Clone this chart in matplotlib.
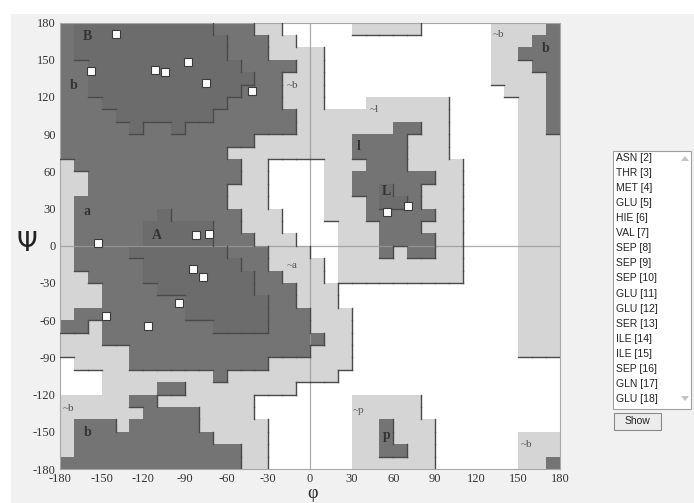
import matplotlib
matplotlib.use('Agg')
import matplotlib.pyplot as plt
import numpy as np
from matplotlib.colors import ListedColormap, BoundaryNorm
from matplotlib.collections import LineCollection
from matplotlib.patches import Rectangle, Polygon

W, H = 694, 503

# Ramachandran region grid: 10-degree cells, rows psi 170 (top) .. -180 (bottom),
# columns phi -180 .. 170.  0 = disallowed, 1 = generous, 2 = allowed, 3 = core
region_rows = [
    "2" + "3"*10 + "222" + "11" + "00000" + "11111" + "00000" + "1111" + "2",      # 170
    "2" + "3"*11 + "222" + "11" + "0"*14 + "111" + "22",                          # 160
    "2" + "3"*11 + "222" + "1111" + "0"*12 + "11" + "222",                        # 150
    "22" + "3"*11 + "2222" + "11" + "0"*12 + "111" + "22",                        # 140
    "22" + "3"*12 + "22" + "111" + "0"*12 + "1111" + "2",                         # 130
    "22" + "3"*11 + "222" + "111" + "0"*13 + "111" + "2",                         # 120
    "222" + "3"*9 + "2222" + "111" + "000" + "111111" + "00000" + "11" + "2",     # 110
    "2222" + "3"*7 + "222222" + "1"*11 + "00000" + "11" + "2",                    # 100
    "22222" + "3" + "22" + "3" + "2"*8 + "1"*7 + "22" + "11" + "00000" + "11" + "2",  # 90
    "2"*14 + "1"*7 + "2222" + "111" + "00000" + "111",                           # 80
    "2"*12 + "1"*9 + "2222" + "111" + "00000" + "111",                           # 70
    "1" + "2"*12 + "11" + "0000" + "111" + "222" + "1111" + "0000" + "111",      # 60
    "11" + "2"*11 + "11" + "0000" + "11" + "222222" + "11" + "0000" + "111",     # 50
    "11" + "2"*10 + "111" + "0000" + "11" + "22" + "3" + "22" + "111" + "0000" + "111",  # 40
    "1" + "2"*11 + "111" + "0000" + "111" + "2" + "33" + "2" + "111" + "0000" + "111",   # 30
    "1" + "222222" + "3" + "22222" + "111" + "000" + "111" + "22222" + "11" + "0000" + "111",  # 20
    "1" + "22222" + "33333" + "22" + "111" + "0000" + "111" + "222" + "111" + "0000" + "111",  # 10
    "1" + "22222" + "33333" + "222" + "111" + "000" + "111" + "2222" + "11" + "0000" + "111",  # 0
    "1" + "2222" + "3"*7 + "222" + "111" + "00" + "111" + "2" + "1" + "22" + "11" + "0000" + "111",  # -10
    "1" + "22222" + "3"*7 + "22" + "1111" + "0" + "1"*9 + "0000" + "111",        # -20
    "11" + "2222" + "3"*8 + "22" + "111" + "0" + "1"*9 + "0000" + "111",         # -30
    "111" + "2222" + "3"*7 + "222" + "111" + "0"*13 + "111",                      # -40
    "111" + "222222" + "333333" + "22" + "111" + "0"*13 + "111",                  # -50
    "1" + "2"*8 + "333333" + "222" + "111" + "0"*12 + "111",                      # -60
    "22" + "1" + "2"*8 + "3333" + "222" + "111" + "0"*12 + "111",                 # -70
    "111" + "2"*16 + "11" + "0"*12 + "111",                                       # -80
    "11111" + "2"*13 + "111" + "0"*12 + "111",                                    # -90
    "0" + "1111" + "2"*10 + "1"*6 + "0"*15,                                       # -100
    "000" + "1"*8 + "2" + "1"*8 + "0"*16,                                         # -110
    "000" + "1111" + "22" + "1"*8 + "0"*19,                                       # -120
    "11111" + "22" + "1"*7 + "0"*7 + "11111" + "0"*10,                            # -130
    "111111" + "2222" + "1111" + "0"*7 + "11111" + "0"*10,                        # -140
    "1" + "222" + "1" + "22222" + "11111" + "0"*6 + "11" + "2" + "111" + "0"*9,   # -150
    "1" + "2"*10 + "1111" + "0"*6 + "11" + "2" + "111" + "0"*6 + "111",          # -160
    "1" + "2"*12 + "11" + "0"*6 + "11" + "22" + "11" + "0"*6 + "111",            # -170
    "2"*13 + "11" + "0"*6 + "1"*6 + "0"*6 + "11" + "2",                           # -180
]
region_colors = ['#ffffff', '#d5d5d5', '#747474', '#6c6c6c']

region_labels = ["B", "b", "a", "A", "~b", "~a", "~l", "l", "L",
                 "~b", "b", "~b", "b", "~p", "p", "~b"]
label_phi = [-160.5, -170.5, -160.5, -110, -13, -13, 46, 35, 55,
             136, 170, -174, -160, 35, 55, 156]
label_psi = [169, 129, 28, 8, 129.5, -16, 109.5, 80, 43.6,
             170, 159, -131, -150.7, -132.5, -152.6, -160.6]

res_phi = [-139.7, -157.9, -111.6, -104.6, -87.6, -75.1, -41.5, -152.9,
           -82.1, -72.7, -84.0, -76.8, -94.3, -147.0, -116.9, 55.4, 70.6]
res_psi = [170.7, 140.9, 141.7, 139.8, 148.4, 131.5, 125.0, 2.0,
           8.7, 9.5, -18.7, -25.0, -46.4, -56.4, -64.5, 27.2, 32.0]

residues = ["ASN [2]", "THR [3]", "MET [4]", "GLU [5]", "HIE [6]", "VAL [7]",
            "SEP [8]", "SEP [9]", "SEP [10]", "GLU [11]", "GLU [12]", "SER [13]",
            "ILE [14]", "ILE [15]", "SEP [16]", "GLN [17]", "GLU [18]"]

ticks = list(range(-180, 181, 30))

# ---------------------------------------------------------------------------
fig = plt.figure(figsize=(W / 100, H / 100), dpi=100)
fig.patch.set_facecolor('#f1f1f1')


def fx(x):
    return x / W


def fy(y):
    return 1 - y / H


# white margins of the screenshot
fig.patches.append(Rectangle((0, fy(14)), 1, 14 / H, transform=fig.transFigure,
                             facecolor='white', edgecolor='none', zorder=0))
fig.patches.append(Rectangle((0, 0), fx(11), 1, transform=fig.transFigure,
                             facecolor='white', edgecolor='none', zorder=0))

ax = fig.add_axes([fx(60), fy(469), 500 / W, 446.5 / H])
ax.set_facecolor('white')

grid = np.array([[int(ch) for ch in row] for row in region_rows])
phi_edges = np.arange(-180, 181, 10)
psi_edges = np.arange(-180, 181, 10)
cmap = ListedColormap(region_colors)
norm = BoundaryNorm([-0.5, 0.5, 1.5, 2.5, 3.5], cmap.N)
ax.pcolormesh(phi_edges, psi_edges, grid[::-1], cmap=cmap, norm=norm,
              shading='flat', zorder=1)

# boundary "shadow" lines on right / bottom edges of higher regions
segs = []
nr, nc = grid.shape
for r in range(nr):
    for c in range(nc):
        p0 = -180 + 10 * c
        s0 = 170 - 10 * r
        v = grid[r, c]
        if c < nc - 1 and v > grid[r, c + 1]:
            segs.append([(p0 + 10, s0), (p0 + 10, s0 + 10)])
        if r < nr - 1 and v > grid[r + 1, c]:
            segs.append([(p0, s0), (p0 + 10, s0)])
ax.add_collection(LineCollection(segs, colors='#4a4a4a', linewidths=1.0,
                                 zorder=3, capstyle='projecting'))

ax.axhline(0, color='#9a9a9a', lw=0.9, alpha=0.8, zorder=2)
ax.axvline(0, color='#9a9a9a', lw=0.9, alpha=0.8, zorder=2)

for t, p, s in zip(region_labels, label_phi, label_psi):
    big = not t.startswith('~')
    ax.text(p, s, t, ha='center', va='center', family='Liberation Serif',
            fontsize=10 if big else 8, fontweight='bold' if big else 'normal',
            color='#333333' if big else '#555555', zorder=4)

ax.plot(res_phi, res_psi, linestyle='none', marker='s', markersize=6.3,
        markerfacecolor='white', markeredgecolor='#3a3a3a',
        markeredgewidth=0.8, zorder=5)

ax.set_xlim(-180, 180)
ax.set_ylim(-180, 180)
ax.set_xticks(ticks)
ax.set_yticks(ticks)
ax.set_xticklabels([str(t) for t in ticks])
ax.set_yticklabels([str(t) for t in ticks])
ax.tick_params(length=0, pad=3, labelsize=9, labelcolor='#333333')
for lab in ax.get_xticklabels() + ax.get_yticklabels():
    lab.set_family('Liberation Serif')
for sp in ax.spines.values():
    sp.set_color('#a8a8a8')
    sp.set_linewidth(0.8)

fig.text(fx(27), fy(244), 'Ψ', fontsize=19, ha='center', va='center',
         family='DejaVu Sans', color='#222222')
fig.text(fx(312), fy(502.5), 'φ', fontsize=13, ha='center', va='bottom',
         family='Liberation Serif', color='#222222')

# residue list box
fig.patches.append(Rectangle((fx(613), fy(409)), 78 / W, 258 / H,
                             transform=fig.transFigure, facecolor='white',
                             edgecolor='#a0a0a0', linewidth=0.8, zorder=2))
for i, name in enumerate(residues):
    fig.text(fx(616), fy(158 + 15.06 * i), name, fontsize=7.5, ha='left',
             va='center', family='Liberation Sans', color='#222222', zorder=3)
fig.patches.append(Polygon([(fx(681), fy(161)), (fx(689), fy(161)), (fx(685), fy(156))],
                           closed=True, transform=fig.transFigure,
                           facecolor='#c4c4c4', edgecolor='none', zorder=3))
fig.patches.append(Polygon([(fx(681), fy(396)), (fx(689), fy(396)), (fx(685), fy(401))],
                           closed=True, transform=fig.transFigure,
                           facecolor='#c4c4c4', edgecolor='none', zorder=3))
# Show button
fig.patches.append(Rectangle((fx(614), fy(430)), 47 / W, 17 / H,
                             transform=fig.transFigure, facecolor='#ececec',
                             edgecolor='#8a8a8a', linewidth=0.8, zorder=2))
fig.text(fx(637.5), fy(421.5), 'Show', fontsize=7.5, ha='center', va='center',
         family='Liberation Sans', color='#222222', zorder=3)

fig.savefig('out.png', dpi=100, facecolor=fig.get_facecolor())
